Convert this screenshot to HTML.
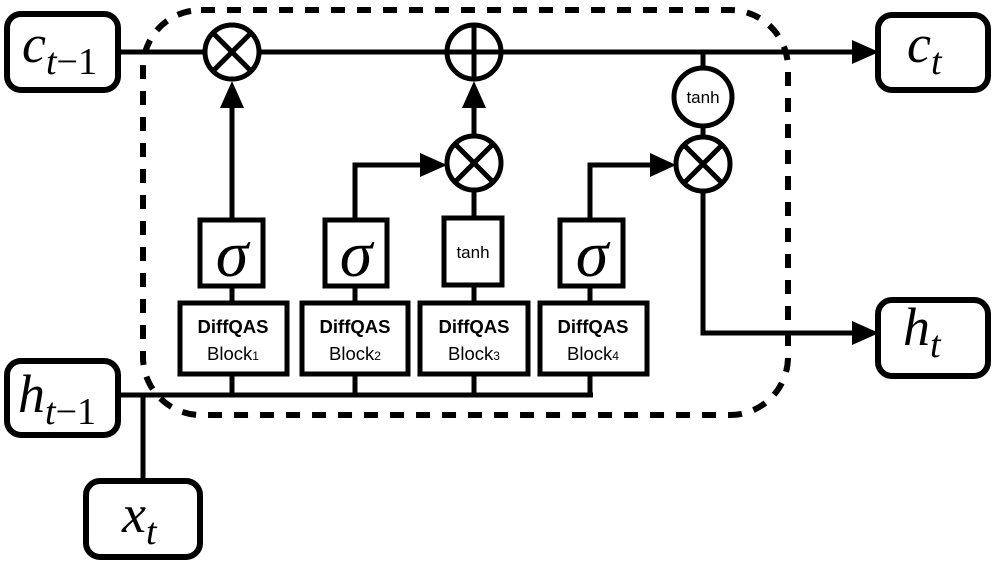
<!DOCTYPE html>
<html><head><style>body{margin:0;background:#fff}svg{display:block}</style></head><body>
<svg width="997" height="565" viewBox="0 0 997 565" xmlns="http://www.w3.org/2000/svg">
<g fill="none" stroke="#000" stroke-width="5">
<rect x="143" y="10" width="645" height="405" rx="58" stroke-width="6" stroke-dasharray="14,12"/>
<line x1="118" y1="52" x2="205" y2="52"/>
<line x1="259" y1="52" x2="447" y2="52"/>
<line x1="501" y1="52" x2="856" y2="52"/>
<path d="M852,40L879,52L852,64z" fill="#000" stroke="none"/>
<line x1="232" y1="220" x2="232" y2="104"/>
<path d="M220,108L232,81L244,108z" fill="#000" stroke="none"/>
<line x1="474" y1="136" x2="474" y2="104"/>
<path d="M462,108L474,81L486,108z" fill="#000" stroke="none"/>
<path d="M355,220V165H424"/>
<path d="M420,153L447,165L420,177z" fill="#000" stroke="none"/>
<line x1="474" y1="218" x2="474" y2="190"/>
<path d="M590,220V165H654"/>
<path d="M650,153L676,165L650,177z" fill="#000" stroke="none"/>
<line x1="703" y1="52" x2="703" y2="68"/>
<line x1="703" y1="126" x2="703" y2="136"/>
<path d="M703,192V333H856"/>
<path d="M852,321L879,333L852,345z" fill="#000" stroke="none"/>
<line x1="118" y1="395" x2="593" y2="395"/>
<line x1="143" y1="395" x2="143" y2="480"/>
<line x1="232" y1="286" x2="232" y2="303"/><line x1="232" y1="374" x2="232" y2="395"/>
<line x1="355" y1="286" x2="355" y2="303"/><line x1="355" y1="374" x2="355" y2="395"/>
<line x1="474" y1="285" x2="474" y2="303"/><line x1="474" y1="374" x2="474" y2="395"/>
<line x1="590" y1="286" x2="590" y2="303"/><line x1="590" y1="374" x2="590" y2="395"/>
<circle cx="232" cy="52" r="27"/><path d="M213,33L251,71M251,33L213,71"/>
<circle cx="474" cy="52" r="27"/><path d="M474,25V79M447,52H501"/>
<circle cx="474" cy="163" r="27"/><path d="M455,144L493,182M493,144L455,182"/>
<circle cx="703" cy="164" r="27"/><path d="M684,145L722,183M722,145L684,183"/>
<circle cx="703" cy="97" r="29"/>
<rect x="200" y="220" width="63" height="66"/>
<rect x="325" y="220" width="62" height="66"/>
<rect x="444" y="218" width="58" height="67"/>
<rect x="560" y="220" width="63" height="66"/>
<rect x="180" y="303" width="107" height="71"/>
<rect x="302" y="303" width="106" height="71"/>
<rect x="420" y="303" width="108" height="71"/>
<rect x="540" y="303" width="107" height="71"/>
<rect x="7" y="14" width="111" height="76" rx="14" stroke-width="6"/>
<rect x="7" y="361" width="111" height="74" rx="14" stroke-width="6"/>
<rect x="86" y="481" width="114" height="76" rx="14" stroke-width="6"/>
<rect x="878" y="15" width="110" height="75" rx="14" stroke-width="6"/>
<rect x="878" y="300" width="110" height="76" rx="14" stroke-width="6"/>
</g>
<g font-family="Liberation Serif, serif" font-style="italic" fill="#000">
<text x="22" y="62" font-size="54">c<tspan font-size="38" dy="12">t</tspan><tspan font-style="normal" font-size="38">−1</tspan></text>
<text x="18" y="412" font-size="54">h<tspan font-size="38" dy="12">t</tspan><tspan font-style="normal" font-size="38">−1</tspan></text>
<text x="122" y="532" font-size="54">x<tspan font-size="38" dy="12">t</tspan></text>
<text x="907" y="62" font-size="54">c<tspan font-size="38" dy="12">t</tspan></text>
<text x="903" y="345" font-size="54">h<tspan font-size="38" dy="12">t</tspan></text>
<g font-size="66" text-anchor="middle"><text x="232" y="276">σ</text><text x="356" y="276">σ</text><text x="592" y="276">σ</text></g>
</g>
<g font-family="Liberation Sans, sans-serif" fill="#000" text-anchor="middle">
<text x="473" y="258" font-size="17">tanh</text>
<text x="703" y="103" font-size="17">tanh</text>
<g font-size="18.5" font-weight="bold"><text x="233" y="333">DiffQAS</text><text x="355" y="333">DiffQAS</text><text x="474" y="333">DiffQAS</text><text x="593" y="333">DiffQAS</text></g>
<g font-size="18.5"><text x="233" y="360">Block<tspan font-size="12">1</tspan></text><text x="355" y="360">Block<tspan font-size="12">2</tspan></text><text x="474" y="360">Block<tspan font-size="12">3</tspan></text><text x="593" y="360">Block<tspan font-size="12">4</tspan></text></g>
</g>
</svg>
</body></html>
